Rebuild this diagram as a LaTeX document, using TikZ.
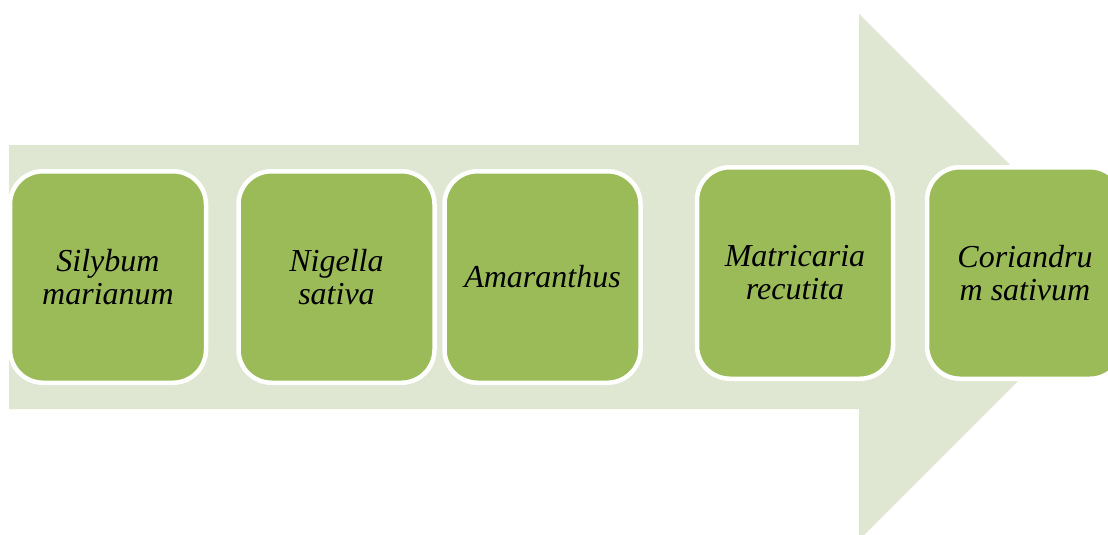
\documentclass[tikz,border=0pt]{standalone}
\usepackage{fontspec}
\setmainfont{Liberation Serif}
\definecolor{arrowfill}{HTML}{DFE7D3}
\definecolor{boxfill}{HTML}{9BBB59}
\begin{document}
\begin{tikzpicture}[x=1pt,y=-1pt,
  plantbox/.style={draw=white, line width=4.5pt, fill=boxfill, rounded corners=33pt,
    minimum width=196pt, minimum height=211.5pt, inner sep=0pt, align=center,
    font=\fontsize{32}{33}\selectfont\itshape, text=black}]
\useasboundingbox (0,0) rectangle (1108,535);
\clip (0,0) rectangle (1108,535);
\fill[arrowfill] (9,145) -- (859,145) -- (859,14) -- (1122,277) -- (859,540) -- (859,409) -- (9,409) -- cycle;
\node[plantbox] (b1) at (108,277) {Silybum\\marianum};
\node[plantbox] (b2) at (336.5,277) {Nigella\\sativa};
\node[plantbox] (b3) at (542.5,277) {Amaranthus};
\node[plantbox] (b4) at (795,273) {Matricaria\\recutita};
\node[plantbox] (b5) at (1025,273) {Coriandru\\m sativum};
\end{tikzpicture}
\end{document}
